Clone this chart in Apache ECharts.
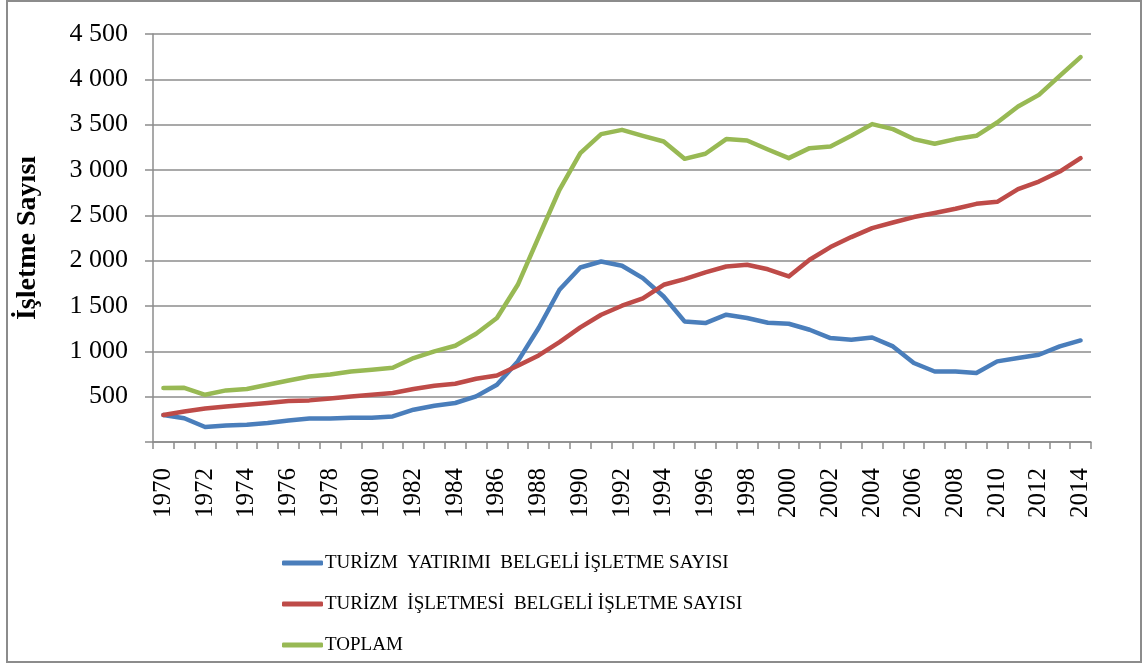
<!DOCTYPE html>
<html>
<head>
<meta charset="utf-8">
<script src="https://cdn.jsdelivr.net/npm/echarts@6/dist/echarts.min.js"></script>
<style>
  html, body { margin: 0; padding: 0; background: #fff; }
  #chart { width: 1147px; height: 666px; }
</style>
</head>
<body>
<div id="chart"></div>
<script>
// yillar
const years = ['1970','1971','1972','1973','1974','1975','1976','1977','1978','1979',
  '1980','1981','1982','1983','1984','1985','1986','1987','1988','1989',
  '1990','1991','1992','1993','1994','1995','1996','1997','1998','1999',
  '2000','2001','2002','2003','2004','2005','2006','2007','2008','2009',
  '2010','2011','2012','2013','2014']

const seriesNames = [
  'TURİZM  YATIRIMI  BELGELİ İŞLETME SAYISI',
  'TURİZM  İŞLETMESİ  BELGELİ İŞLETME SAYISI',
  'TOPLAM'
]

const yatirim = [298, 262, 165, 183, 191, 209, 238, 260, 260, 268,
  268, 282, 356, 400, 430, 503, 632, 889, 1257, 1679,
  1925, 1991, 1944, 1808, 1605, 1330, 1312, 1404, 1367, 1315,
  1304, 1238, 1146, 1128, 1153, 1054, 871, 778, 778, 761,
  889, 926, 962, 1054, 1120]

const isletme = [298, 337, 370, 392, 411, 430, 452, 459, 481, 503,
  522, 540, 584, 621, 643, 698, 734, 841, 955, 1102,
  1264, 1404, 1503, 1583, 1734, 1797, 1870, 1936, 1955, 1905,
  1826, 2010, 2150, 2260, 2359, 2421, 2481, 2525, 2572, 2627,
  2649, 2789, 2873, 2983, 3131]

const toplam = [595, 598, 521, 569, 584, 632, 679, 723, 745, 778,
  797, 818, 926, 999, 1062, 1194, 1367, 1734, 2260, 2782,
  3186, 3396, 3443, 3377, 3314, 3123, 3179, 3341, 3325, 3226,
  3131, 3241, 3259, 3377, 3506, 3451, 3341, 3289, 3341, 3377,
  3524, 3700, 3829, 4039, 4245]

const colors = ['#4a7ebb', '#be4b48', '#98b954']
const gridGray = '#8c8c8c'
const serif = '"Liberation Serif", "DejaVu Serif", serif'

const chart = echarts.init(document.getElementById('chart'))

const lineSeries = (name, data, color) => ({
  name: name,
  type: 'line',
  data: data,
  symbol: 'none',
  lineStyle: { color: color, width: 4.5, cap: 'round', join: 'round' },
  itemStyle: { color: color },
  animation: false
})

chart.setOption({
  backgroundColor: '#fff',
  animation: false,
  grid: { left: 153, right: 56, top: 34, bottom: 224 },
  graphic: [
    {
      type: 'rect',
      shape: { x: 7, y: 1, width: 1134, height: 661 },
      style: { fill: 'none', stroke: gridGray, lineWidth: 2 }
    },
    {
      type: 'text',
      x: 28,
      y: 238,
      rotation: Math.PI / 2,
      style: {
        text: 'İşletme Sayısı',
        font: 'bold 28px ' + serif,
        fill: '#000',
        align: 'center',
        verticalAlign: 'middle'
      }
    }
  ],
  legend: {
    orient: 'vertical',
    left: 277,
    top: 548,
    itemWidth: 41,
    itemHeight: 5,
    itemGap: 21,
    icon: 'roundRect',
    data: seriesNames,
    textStyle: { fontFamily: serif, fontSize: 19, color: '#000', lineHeight: 20, padding: [0, 0, 0, -3] }
  },
  xAxis: {
    type: 'category',
    data: years,
    boundaryGap: true,
    axisLine: { lineStyle: { color: gridGray, width: 1.5 } },
    axisTick: { show: true, interval: 0, length: 7, lineStyle: { color: gridGray, width: 1.5 } },
    axisLabel: {
      interval: 1,
      rotate: 90,
      margin: 26,
      fontFamily: serif,
      fontSize: 25,
      color: '#000'
    },
    splitLine: { show: false }
  },
  yAxis: {
    type: 'value',
    min: 0,
    max: 4500,
    interval: 500,
    axisLine: { show: true, lineStyle: { color: gridGray, width: 1.5 } },
    axisTick: { show: true, length: 8, lineStyle: { color: gridGray, width: 1.5 } },
    axisLabel: {
      margin: 25,
      fontFamily: serif,
      fontSize: 26,
      color: '#000',
      formatter: v => v === 0 ? '' : String(v).replace(/\B(?=(\d{3})+(?!\d))/g, ' ')
    },
    splitLine: { lineStyle: { color: gridGray, width: 1.5 } }
  },
  series: [
    lineSeries(seriesNames[0], yatirim, colors[0]),
    lineSeries(seriesNames[1], isletme, colors[1]),
    lineSeries(seriesNames[2], toplam, colors[2])
  ]
})
</script>
</body>
</html>
